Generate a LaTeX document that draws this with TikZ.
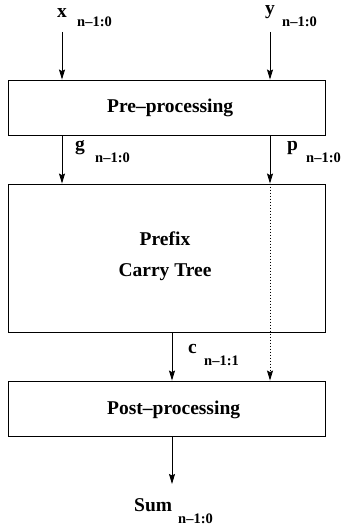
\documentclass[tikz,border=0pt]{standalone}
\usepackage{fontspec}
\setmainfont{Liberation Serif}
\usetikzlibrary{arrows.meta}
\tikzset{
  blockbox/.style={draw, line width=0.9pt, minimum width=317pt, inner sep=0pt},
  bigtext/.style={font=\bfseries\fontsize{19.5}{31}\selectfont, inner sep=0pt, anchor=base west},
  subtext/.style={font=\bfseries\fontsize{14.5}{18}\selectfont, inner sep=0pt, anchor=base west},
  sig/.style={line width=0.9pt, -{Stealth[length=10pt,width=6pt,inset=1.5pt]}},
  dotsig/.style={sig, dash pattern=on 1pt off 2pt}
}
\begin{document}
\begin{tikzpicture}[x=1pt, y=-1pt]
    \useasboundingbox (0,0) rectangle (342,529);
    \node[blockbox, minimum height=55pt] (pre) at (166.5, 107.5) {};
    \node[blockbox, minimum height=148pt] (tree) at (166.5, 258) {};
    \node[blockbox, minimum height=55pt] (post) at (166.5, 408.5) {};
    \node[bigtext] (pretext) at (107, 113) {Pre\textendash processing};
    \node[bigtext, anchor=base] (treetext) at (165, 245) {Prefix};
    \node[bigtext, anchor=base] (treetext2) at (165, 276) {Carry Tree};
    \node[bigtext] (posttext) at (107, 414) {Post\textendash processing};
    % inputs
    \node[bigtext] (x) at (57, 18) {x};
    \node[subtext] (xsub) at (77, 27) {n\textendash 1:0};
    \node[bigtext] (y) at (265, 15) {y};
    \node[subtext] (ysub) at (282, 27) {n\textendash 1:0};
    \coordinate (xtop) at (62, 32);
    \coordinate (ytop) at (270, 32);
    \draw[sig] (xtop) -- (xtop |- pre.north);
    \draw[sig] (ytop) -- (ytop |- pre.north);
    % generate / propagate
    \node[bigtext] (g) at (75, 151) {g};
    \node[subtext] (gsub) at (95, 163) {n\textendash 1:0};
    \node[bigtext] (p) at (287, 151) {p};
    \node[subtext] (psub) at (306, 163) {n\textendash 1:0};
    \draw[sig] (xtop |- pre.south) -- (xtop |- tree.north);
    \draw[sig] (ytop |- pre.south) -- (ytop |- tree.north);
    \draw[dotsig] (ytop |- tree.north) -- (ytop |- post.north);
    % carries
    \coordinate (ctop) at (172, 332);
    \node[bigtext] (c) at (188, 353) {c};
    \node[subtext] (csub) at (204, 365) {n\textendash 1:1};
    \draw[sig] (ctop |- tree.south) -- (ctop |- post.north);
    % sum
    \coordinate (sumtop) at (172, 484);
    \node[bigtext] (sum) at (134, 511) {Sum};
    \node[subtext] (sumsub) at (178, 523) {n\textendash 1:0};
    \draw[sig] (sumtop |- post.south) -- (sumtop);
\end{tikzpicture}
\end{document}
